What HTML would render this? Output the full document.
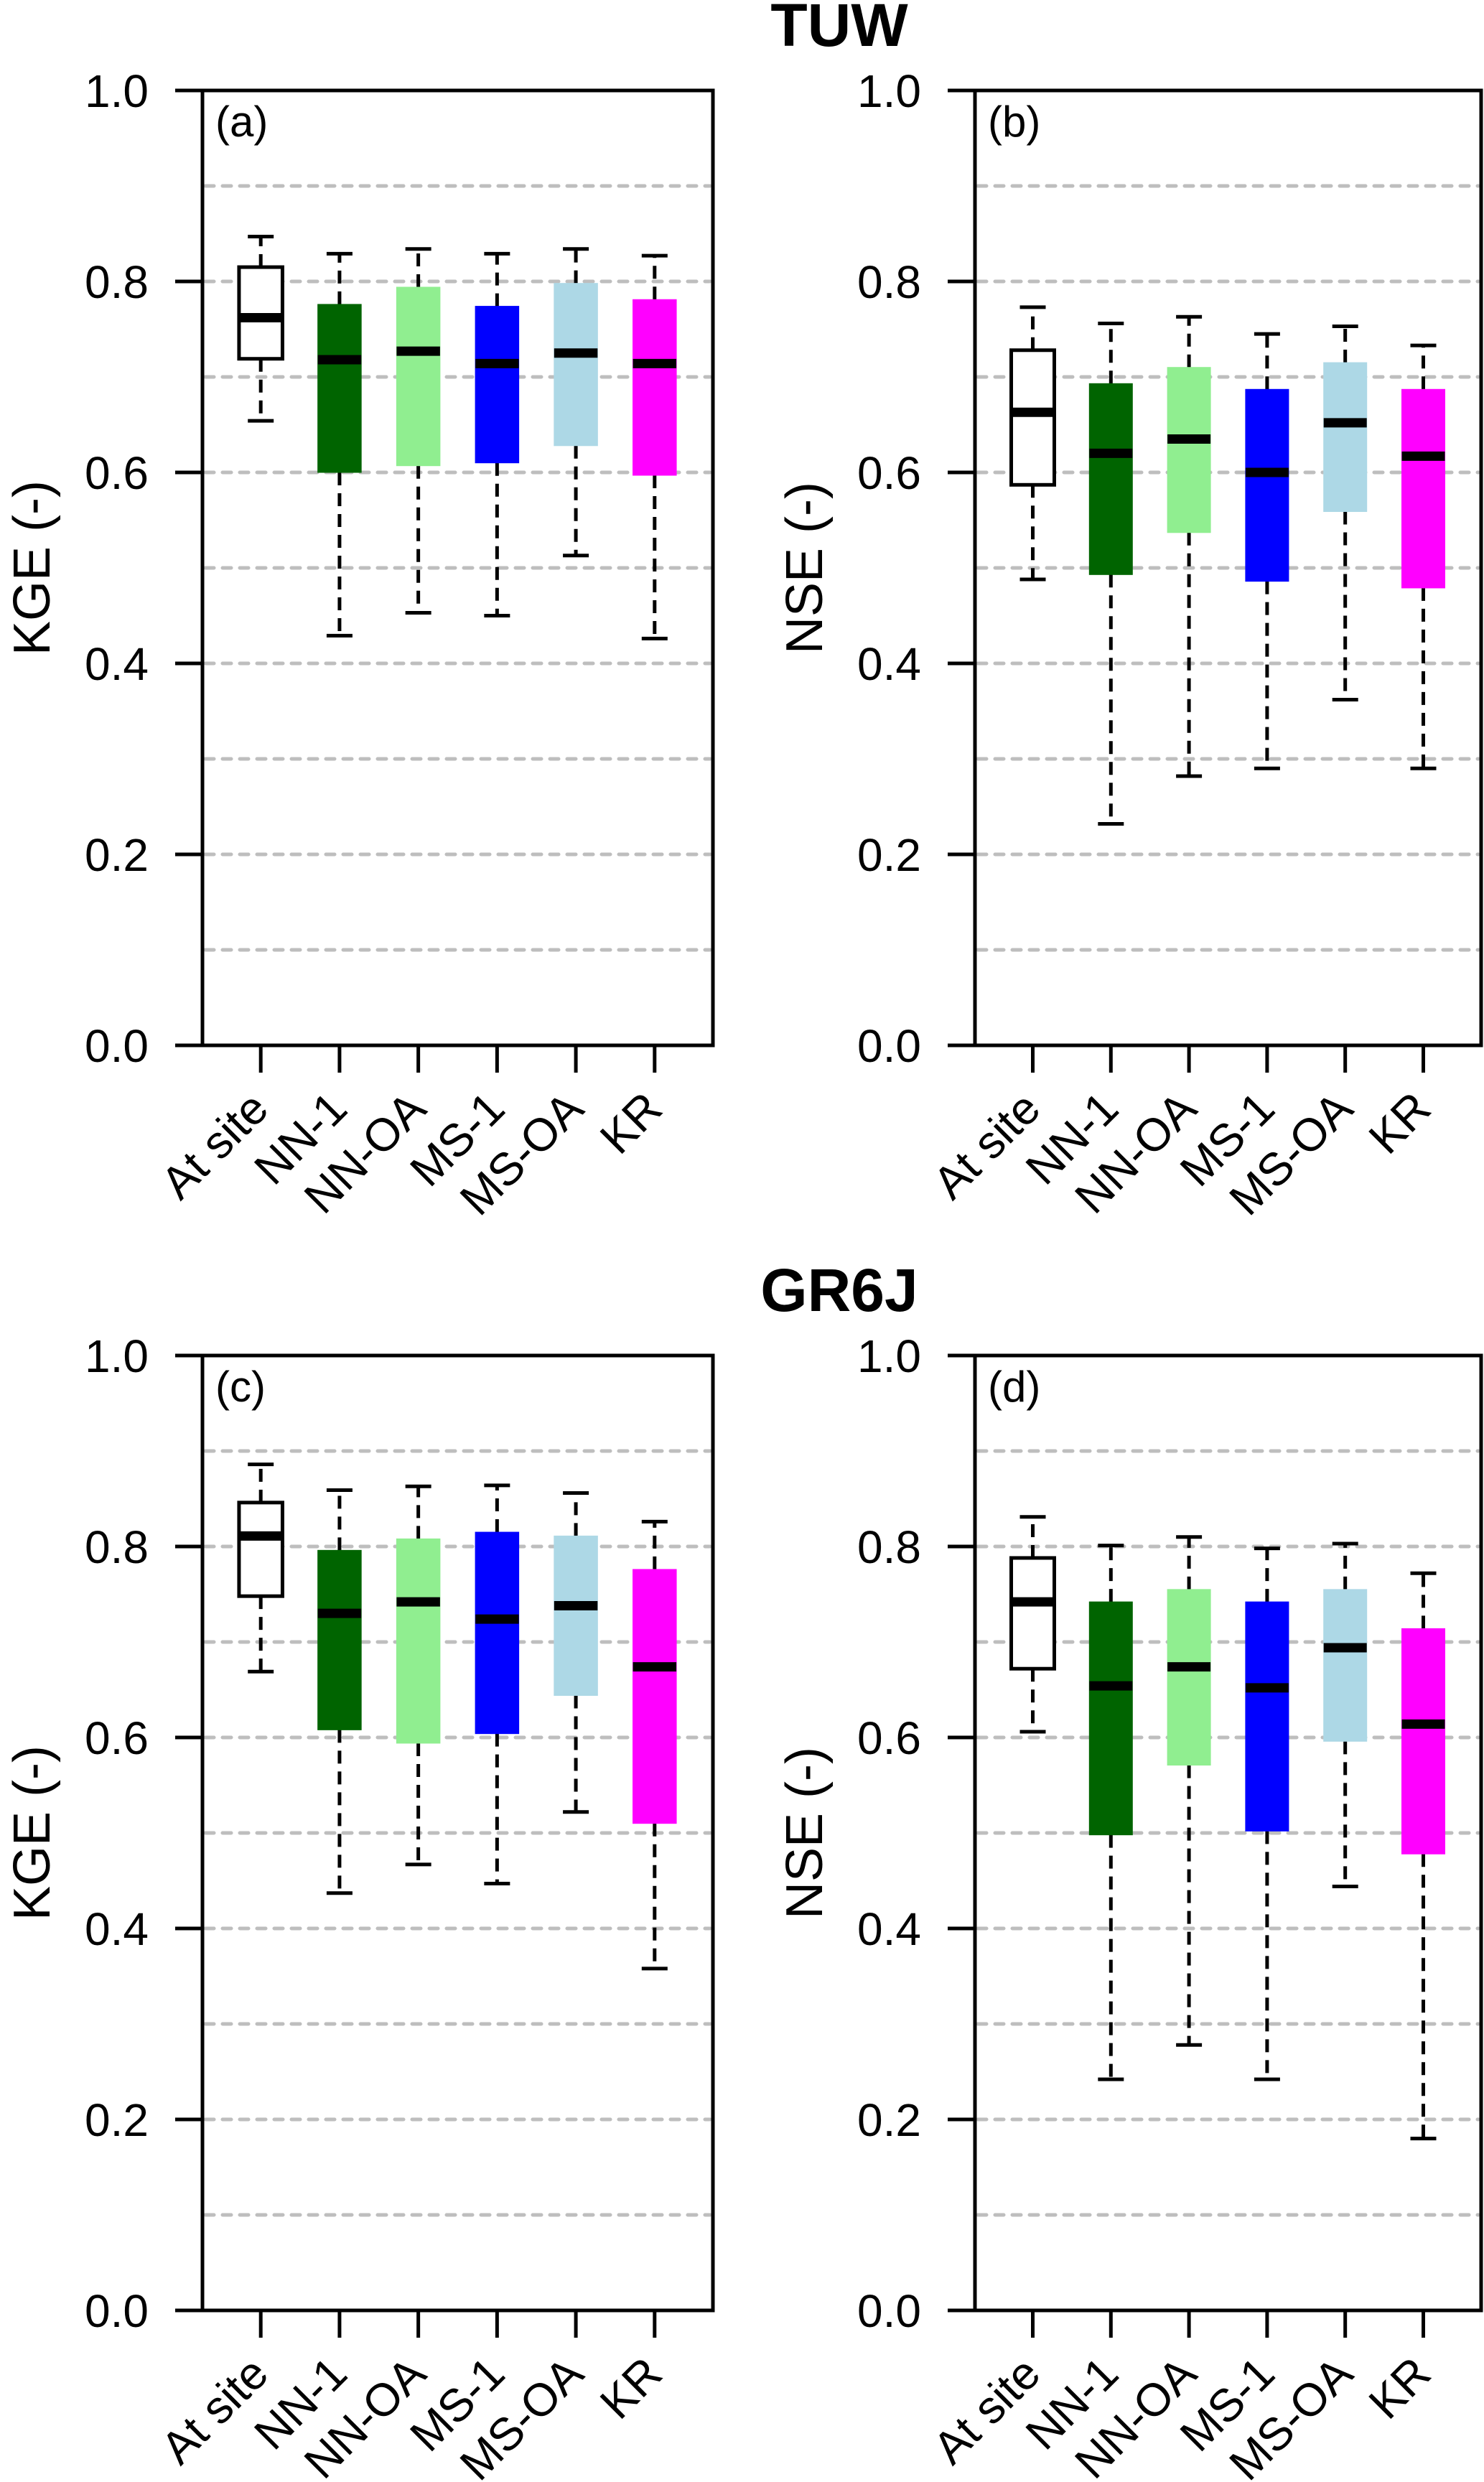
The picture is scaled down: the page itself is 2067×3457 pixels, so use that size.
<!DOCTYPE html>
<html><head><meta charset="utf-8">
<style>
html,body{margin:0;padding:0;background:#fff;}
svg{display:block;font-family:"Liberation Sans",Arial,sans-serif;}
</style></head>
<body>
<svg id="chart" width="2067" height="3457" viewBox="0 0 2067 3457" xmlns="http://www.w3.org/2000/svg">
<rect width="2067" height="3457" fill="#fff"/>
<text x="1169" y="64" font-size="84" font-weight="bold" text-anchor="middle">TUW</text>
<text x="1169" y="1826" font-size="84" font-weight="bold" text-anchor="middle">GR6J</text>
</svg>
<script>
const categories = ["At site","NN-1","NN-OA","MS-1","MS-OA","KR"];
const colors = ["#ffffff","#006400","#90ee90","#0000ff","#add8e6","#ff00ff"];
const yTicks = [0,0.2,0.4,0.6,0.8,1.0];
const yTickLabels = ["0.0","0.2","0.4","0.6","0.8","1.0"];
const gridVals = [0.1,0.2,0.3,0.4,0.5,0.6,0.7,0.8,0.9];
// each series: [lowWhisker, Q1, median, Q3, highWhisker] per category
const kgeTUW = [[0.654,0.719,0.762,0.815,0.847],[0.429,0.600,0.718,0.776,0.829],[0.453,0.607,0.727,0.794,0.834],[0.450,0.610,0.714,0.774,0.829],[0.513,0.628,0.725,0.798,0.834],[0.426,0.597,0.714,0.781,0.827]];
const nseTUW = [[0.488,0.587,0.663,0.728,0.773],[0.232,0.493,0.620,0.693,0.756],[0.282,0.537,0.635,0.710,0.763],[0.290,0.486,0.600,0.687,0.745],[0.362,0.559,0.652,0.715,0.753],[0.290,0.479,0.617,0.687,0.733]];
const kgeGR6J = [[0.669,0.748,0.811,0.846,0.886],[0.437,0.608,0.730,0.796,0.859],[0.467,0.594,0.742,0.808,0.863],[0.447,0.604,0.724,0.815,0.864],[0.522,0.644,0.738,0.811,0.856],[0.358,0.510,0.674,0.776,0.826]];
const nseGR6J = [[0.606,0.672,0.742,0.788,0.831],[0.242,0.498,0.654,0.742,0.801],[0.278,0.571,0.674,0.755,0.810],[0.242,0.502,0.652,0.742,0.798],[0.444,0.596,0.694,0.755,0.803],[0.180,0.478,0.614,0.714,0.772]];

const NS = "http://www.w3.org/2000/svg";
const svg = document.getElementById("chart");
function mk(tag, attrs, parent){
  const e = document.createElementNS(NS, tag);
  for (const k in attrs) e.setAttribute(k, attrs[k]);
  (parent||svg).appendChild(e);
  return e;
}
function panel(id, letter, ylab, data, L, R, T, B){
  const g = mk("g", {});
  
  
  const y = v => B - v*(B-T);
  const W = R - L;
  const x = i => L + ((i+1) - 0.26)/6.48*W;
  const bw = 60*W/705, cap = 36;
  gridVals.forEach(v=>{
    const l = mk("line",{x1:L+4,x2:R-4,y1:y(v),y2:y(v),stroke:"#bebebe","stroke-width":5,"stroke-dasharray":"12 12","stroke-linecap":"round"},g);
    
    
  });
  data.forEach((d,i)=>{
    const cx = x(i);
    const bg = mk("g",{},g);
    
    
    mk("line",{x1:cx,x2:cx,y1:y(d[3]),y2:y(d[4]),stroke:"#000","stroke-width":5,"stroke-dasharray":"18 11"},bg);
    mk("line",{x1:cx,x2:cx,y1:y(d[1]),y2:y(d[0]),stroke:"#000","stroke-width":5,"stroke-dasharray":"18 11"},bg);
    mk("line",{x1:cx-cap/2,x2:cx+cap/2,y1:y(d[4]),y2:y(d[4]),stroke:"#000","stroke-width":5},bg);
    mk("line",{x1:cx-cap/2,x2:cx+cap/2,y1:y(d[0]),y2:y(d[0]),stroke:"#000","stroke-width":5},bg);
    const white = colors[i]==="#ffffff";
    mk("rect",{x:cx-bw/2,y:y(d[3]),width:bw,height:y(d[1])-y(d[3]),fill:colors[i],stroke:white?"#000":colors[i],"stroke-width":white?5:1},bg);
    mk("line",{x1:cx-bw/2+(white?2:0),x2:cx+bw/2-(white?2:0),y1:y(d[2]),y2:y(d[2]),stroke:"#000","stroke-width":13},bg);
  });
  const fr = mk("rect",{x:L,y:T,width:W,height:B-T,fill:"none",stroke:"#000","stroke-width":5},g);
  
  
  yTicks.forEach((v,k)=>{
    mk("line",{x1:L-38,x2:L,y1:y(v),y2:y(v),stroke:"#000","stroke-width":5},g);
    const t = mk("text",{x:L-75,y:y(v)+23,"font-size":64,"text-anchor":"end"},g);
    t.textContent = yTickLabels[k];
    
    
  });
  categories.forEach((c,i)=>{
    const cx = x(i);
    mk("line",{x1:cx,x2:cx,y1:B,y2:B+38,stroke:"#000","stroke-width":5},g);
    const ax = cx+14, ay = B+92;
    const t = mk("text",{x:ax,y:ay,"font-size":64,"text-anchor":"end",transform:`rotate(-45 ${ax} ${ay})`},g);
    t.textContent = c;
    
    
  });
  const yt = L-213, ym = (T+B)/2;
  const ttl = mk("text",{x:yt,y:ym,"font-size":72,"text-anchor":"middle",transform:`rotate(-90 ${yt} ${ym})`},g);
  ttl.textContent = ylab;
  
  
  const pl = mk("text",{x:L+18,y:T+64,"font-size":60},g);
  pl.textContent = "(" + letter + ")";
  
  
}
panel("a","a","KGE (-)",kgeTUW,282,993,126,1456);
panel("b","b","NSE (-)",nseTUW,1358,2063,126,1456);
panel("c","c","KGE (-)",kgeGR6J,282,993,1888,3218);
panel("d","d","NSE (-)",nseGR6J,1358,2063,1888,3218);
</script>
</body></html>
